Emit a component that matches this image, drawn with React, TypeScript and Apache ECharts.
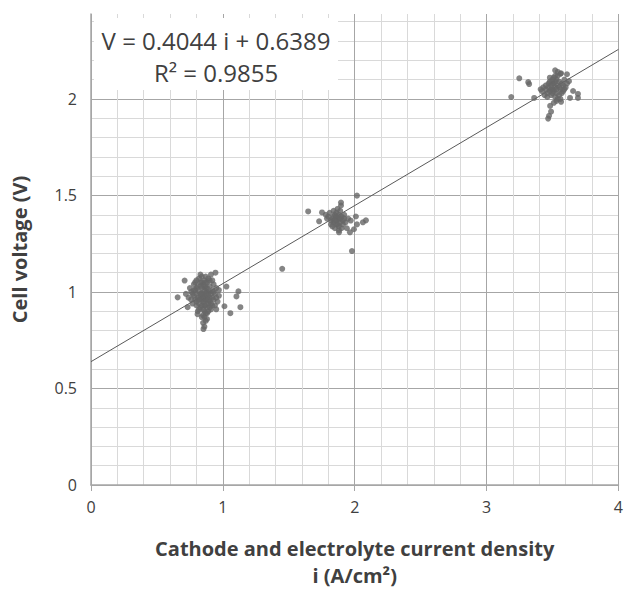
import React, { useEffect, useRef } from "react";
import * as echarts from "echarts";

// Trend line (least squares fit shown on the chart)
const slope = 0.4044;
const intercept = 0.6389;
const rSquared = 0.9855;
const trendX = [0, 4];

// Cluster around 0.9 A/cm2
const cluster1: number[][] = [
  [0.86, 0.98], [0.88, 1.0], [0.84, 0.96], [0.9, 0.97], [0.87, 1.02], [0.83, 0.99], [0.89, 0.94], [0.85, 1.04], [0.92, 1.01], [0.81, 0.97],
  [0.86, 0.93], [0.91, 0.99], [0.79, 1.01], [0.88, 1.05], [0.84, 1.02], [0.93, 0.96], [0.82, 0.94], [0.87, 0.96], [0.85, 0.99], [0.9, 1.03],
  [0.78, 0.98], [0.94, 0.99], [0.83, 1.05], [0.88, 0.92], [0.86, 1.06], [0.8, 0.95], [0.91, 0.94], [0.85, 0.91], [0.89, 1.07], [0.76, 1.0],
  [0.95, 1.02], [0.82, 1.07], [0.87, 0.89], [0.84, 0.93], [0.92, 0.97], [0.79, 0.96], [0.9, 1.0], [0.86, 1.01], [0.81, 1.03], [0.88, 0.97],
  [0.83, 0.97], [0.89, 0.99], [0.85, 0.95], [0.87, 1.08], [0.77, 0.94], [0.93, 1.04], [0.8, 0.99], [0.91, 0.91], [0.84, 1.08], [0.86, 0.87],
  [0.74, 0.97], [0.96, 0.95], [0.82, 1.0], [0.88, 1.02], [0.85, 0.97], [0.9, 0.95], [0.87, 0.99], [0.83, 0.92], [0.89, 0.9], [0.78, 1.04],
  [0.94, 0.93], [0.81, 0.9], [0.86, 0.95], [0.92, 1.06], [0.75, 1.02], [0.88, 0.86], [0.84, 0.99], [0.97, 0.98], [0.8, 1.06], [0.87, 0.93],
  [0.85, 0.84], [0.86, 0.82], [0.87, 0.85], [0.84, 0.87], [0.72, 0.99], [0.95, 0.91], [0.91, 1.09], [0.83, 1.09], [0.89, 0.96], [0.86, 1.03],
  [0.8, 1.02], [0.82, 0.96], [0.77, 0.99], [0.79, 1.05], [0.93, 1.0], [0.95, 0.97], [0.9, 0.92], [0.92, 0.93], [0.82, 0.91], [0.8, 0.93],
  [0.84, 1.05], [0.87, 1.05], [0.9, 1.06], [0.76, 0.96], [0.78, 1.01], [0.97, 1.01], [0.86, 0.9], [0.88, 0.89], [0.85, 0.88], [0.83, 1.03],
  [0.657, 0.972], [0.71, 1.059], [0.944, 1.1], [1.118, 1.003], [1.103, 0.977], [1.133, 0.921], [1.012, 0.926], [1.057, 0.89],
  [0.808, 0.885], [0.733, 0.921], [0.853, 0.808], [1.027, 1.028],
];

// Cluster around 1.9 A/cm2
const cluster2: number[][] = [
  [1.86, 1.37], [1.88, 1.38], [1.84, 1.36], [1.9, 1.39], [1.85, 1.4], [1.87, 1.35], [1.83, 1.38], [1.89, 1.36], [1.86, 1.41], [1.91, 1.37],
  [1.82, 1.37], [1.88, 1.34], [1.84, 1.39], [1.92, 1.4], [1.87, 1.38], [1.8, 1.39], [1.85, 1.33], [1.89, 1.42], [1.93, 1.36], [1.86, 1.35],
  [1.81, 1.41], [1.9, 1.33], [1.83, 1.34], [1.88, 1.4], [1.95, 1.38], [1.79, 1.38], [1.87, 1.43], [1.84, 1.42], [1.91, 1.35], [1.86, 1.39],
  [1.94, 1.33], [1.82, 1.35], [1.89, 1.38], [1.85, 1.37], [1.97, 1.37], [1.88, 1.32], [1.92, 1.38], [1.78, 1.4],
  [2.017, 1.499], [1.896, 1.463], [1.896, 1.448], [1.647, 1.417], [1.752, 1.412], [1.73, 1.366], [2.085, 1.371], [2.062, 1.361],
  [1.994, 1.325], [1.964, 1.309], [1.881, 1.309], [1.979, 1.212], [2.009, 1.391], [2.017, 1.35], [1.45, 1.12],
];

// Cluster around 3.5 A/cm2
const cluster3: number[][] = [
  [3.52, 2.06], [3.5, 2.05], [3.54, 2.07], [3.48, 2.04], [3.53, 2.03], [3.55, 2.09], [3.51, 2.08], [3.47, 2.06], [3.56, 2.05], [3.49, 2.02],
  [3.53, 2.1], [3.58, 2.07], [3.45, 2.05], [3.51, 2.04], [3.54, 2.12], [3.5, 2.08], [3.57, 2.03], [3.46, 2.03], [3.52, 2.01], [3.55, 2.06],
  [3.43, 2.06], [3.59, 2.1], [3.49, 2.07], [3.53, 2.05], [3.56, 2.13], [3.44, 2.02], [3.51, 2.11], [3.48, 2.09], [3.58, 2.04], [3.54, 2.0],
  [3.42, 2.04], [3.6, 2.06], [3.47, 2.08], [3.52, 2.09], [3.55, 2.02], [3.5, 2.1], [3.57, 2.08], [3.45, 2.07], [3.53, 1.99], [3.49, 2.05],
  [3.41, 2.05], [3.61, 2.08], [3.54, 2.14], [3.46, 2.01], [3.51, 1.98], [3.56, 2.0], [3.48, 2.11], [3.59, 2.05], [3.52, 2.12], [3.5, 2.03],
  [3.248, 2.107], [3.316, 2.087], [3.323, 2.077], [3.187, 2.01], [3.361, 2.005], [3.52, 2.148], [3.565, 2.133], [3.61, 2.128],
  [3.625, 2.092], [3.656, 2.041], [3.693, 2.026], [3.693, 2.005], [3.633, 2.005], [3.565, 1.985], [3.482, 1.964], [3.489, 1.934],
  [3.467, 1.898], [3.474, 1.913],
];

const xTitle = "Cathode and electrolyte current density\ni (A/cm²)";
const yTitle = "Cell voltage (V)";

const MAJOR = "#a6a6a6";
const MINOR = "#d9d9d9";
const TEXT = "#404040";
const FONT = "Open Sans";

export default function App() {
  const ref = useRef<HTMLDivElement>(null);
  useEffect(() => {
    if (!ref.current) return;
    const chart = echarts.init(ref.current, undefined, { renderer: "svg" });
    const points = [...cluster1, ...cluster2, ...cluster3];
    const trend = trendX.map((x) => [x, slope * x + intercept]);
    chart.setOption({
      animation: false,
      textStyle: { fontFamily: FONT },
      grid: { left: 91, right: 5, top: 14, bottom: 103, containLabel: false },
      xAxis: {
        type: "value",
        min: 0,
        max: 4,
        interval: 1,
        axisLine: { show: true, lineStyle: { color: MAJOR, width: 1.5 } },
        axisTick: { show: true, length: 6, lineStyle: { color: MAJOR } },
        axisLabel: { fontSize: 16, color: TEXT, margin: 14, fontFamily: FONT },
        splitLine: { show: true, lineStyle: { color: MAJOR, width: 1 } },
        minorTick: { show: false, splitNumber: 5 },
        minorSplitLine: { show: true, lineStyle: { color: MINOR, width: 1 } },
        name: xTitle,
        nameLocation: "middle",
        nameGap: 50,
        nameTextStyle: { fontSize: 20, fontWeight: "bold", color: TEXT, lineHeight: 27, fontFamily: FONT },
      },
      yAxis: {
        type: "value",
        min: 0,
        max: 2.44,
        interval: 0.1,
        axisLine: { show: true, lineStyle: { color: MAJOR, width: 1.5 } },
        axisTick: { show: false },
        axisLabel: {
          fontSize: 16,
          color: TEXT,
          margin: 14,
          fontFamily: FONT,
          showMaxLabel: false,
          formatter: (v: number) => {
            const r = Math.round(v * 10) / 10;
            return Math.abs(r * 2 - Math.round(r * 2)) < 1e-6 ? String(r) : "";
          },
        },
        splitLine: {
          show: true,
          showMaxLine: false,
          lineStyle: { color: [MAJOR, MINOR, MINOR, MINOR, MINOR], width: 1 },
        },
        name: yTitle,
        nameLocation: "middle",
        nameGap: 62,
        nameTextStyle: { fontSize: 20, fontWeight: "bold", color: TEXT, fontFamily: FONT },
      },
      series: [
        {
          type: "line",
          data: trend,
          showSymbol: false,
          symbol: "none",
          lineStyle: { color: "#595959", width: 1 },
          z: 2,
        },
        {
          type: "scatter",
          data: points,
          symbol: "circle",
          symbolSize: 6,
          itemStyle: { color: "#666666" },
          z: 3,
        },
      ],
      graphic: {
        elements: [
          {
            type: "rect",
            z: 100,
            shape: { x: 94, y: 18, width: 244, height: 72 },
            style: { fill: "#ffffff", stroke: "none" },
          },
          {
            type: "text",
            z: 101,
            x: 216,
            y: 40,
            style: {
              text: `V = ${slope} i + ${intercept}`,
              fontSize: 24,
              fontFamily: FONT,
              fill: TEXT,
              align: "center",
              verticalAlign: "middle",
            },
          },
          {
            type: "text",
            z: 101,
            x: 216,
            y: 72,
            style: {
              text: `R² = ${rSquared}`,
              fontSize: 24,
              fontFamily: FONT,
              fill: TEXT,
              align: "center",
              verticalAlign: "middle",
            },
          },
        ],
      },
    });
    return () => chart.dispose();
  }, []);
  return <div ref={ref} style={{ position: "absolute", left: 0, top: 0, width: 626, height: 594 }} />;
}
